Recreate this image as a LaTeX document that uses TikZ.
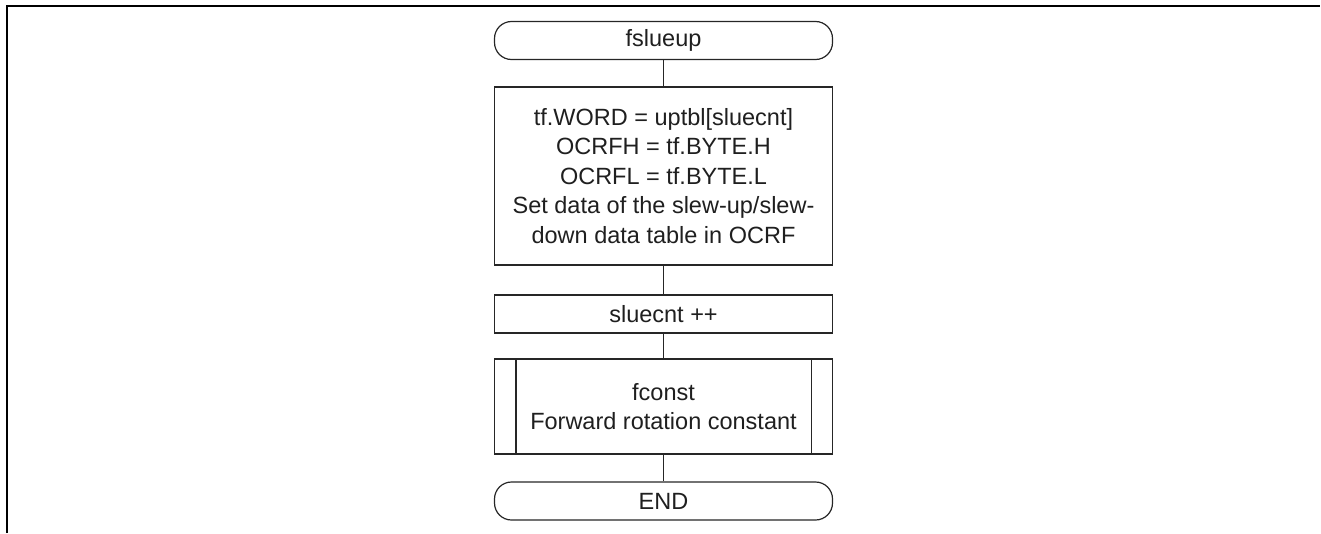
\documentclass[tikz,border=0pt]{standalone}
\usepackage{fontspec}
\setmainfont{Liberation Sans}
\begin{document}
\begin{tikzpicture}[x=1pt,y=-1pt,
  every node/.style={font=\fontsize{23.5}{29.5}\selectfont, text=black!88, inner sep=0pt, align=center},
  box/.style={draw=black!85, line width=1.2pt, minimum width=338pt},
  term/.style={box, rounded corners=17pt, minimum height=38pt},
  conn/.style={draw=black!85, line width=1.2pt}]
\useasboundingbox (0,0) rectangle (1321,533);
\draw[line width=2pt] (6.5,533) -- (6.5,5.5) -- (1320,5.5);
\node[term] (start) at (663.5,40.5) {fslueup};
\node[box, minimum height=178pt] (set) at (663.5,176) {tf.WORD = uptbl[sluecnt]\\OCRFH = tf.BYTE.H\\OCRFL = tf.BYTE.L\\Set data of the slew-up/slew-\\down data table in OCRF};
\node[box, minimum height=38pt] (inc) at (663.5,314) {sluecnt ++};
\node[box, minimum height=95pt] (fc) at (663.5,406.5) {fconst\\Forward rotation constant};
\draw[conn] ([xshift=22pt]fc.north west) -- ([xshift=22pt]fc.south west);
\draw[conn] ([xshift=-22pt]fc.north east) -- ([xshift=-22pt]fc.south east);
\node[term] (end) at (663.5,501) {END};
\draw[conn] (start) -- (set);
\draw[conn] (set) -- (inc);
\draw[conn] (inc) -- (fc);
\draw[conn] (fc) -- (end);
\end{tikzpicture}
\end{document}
